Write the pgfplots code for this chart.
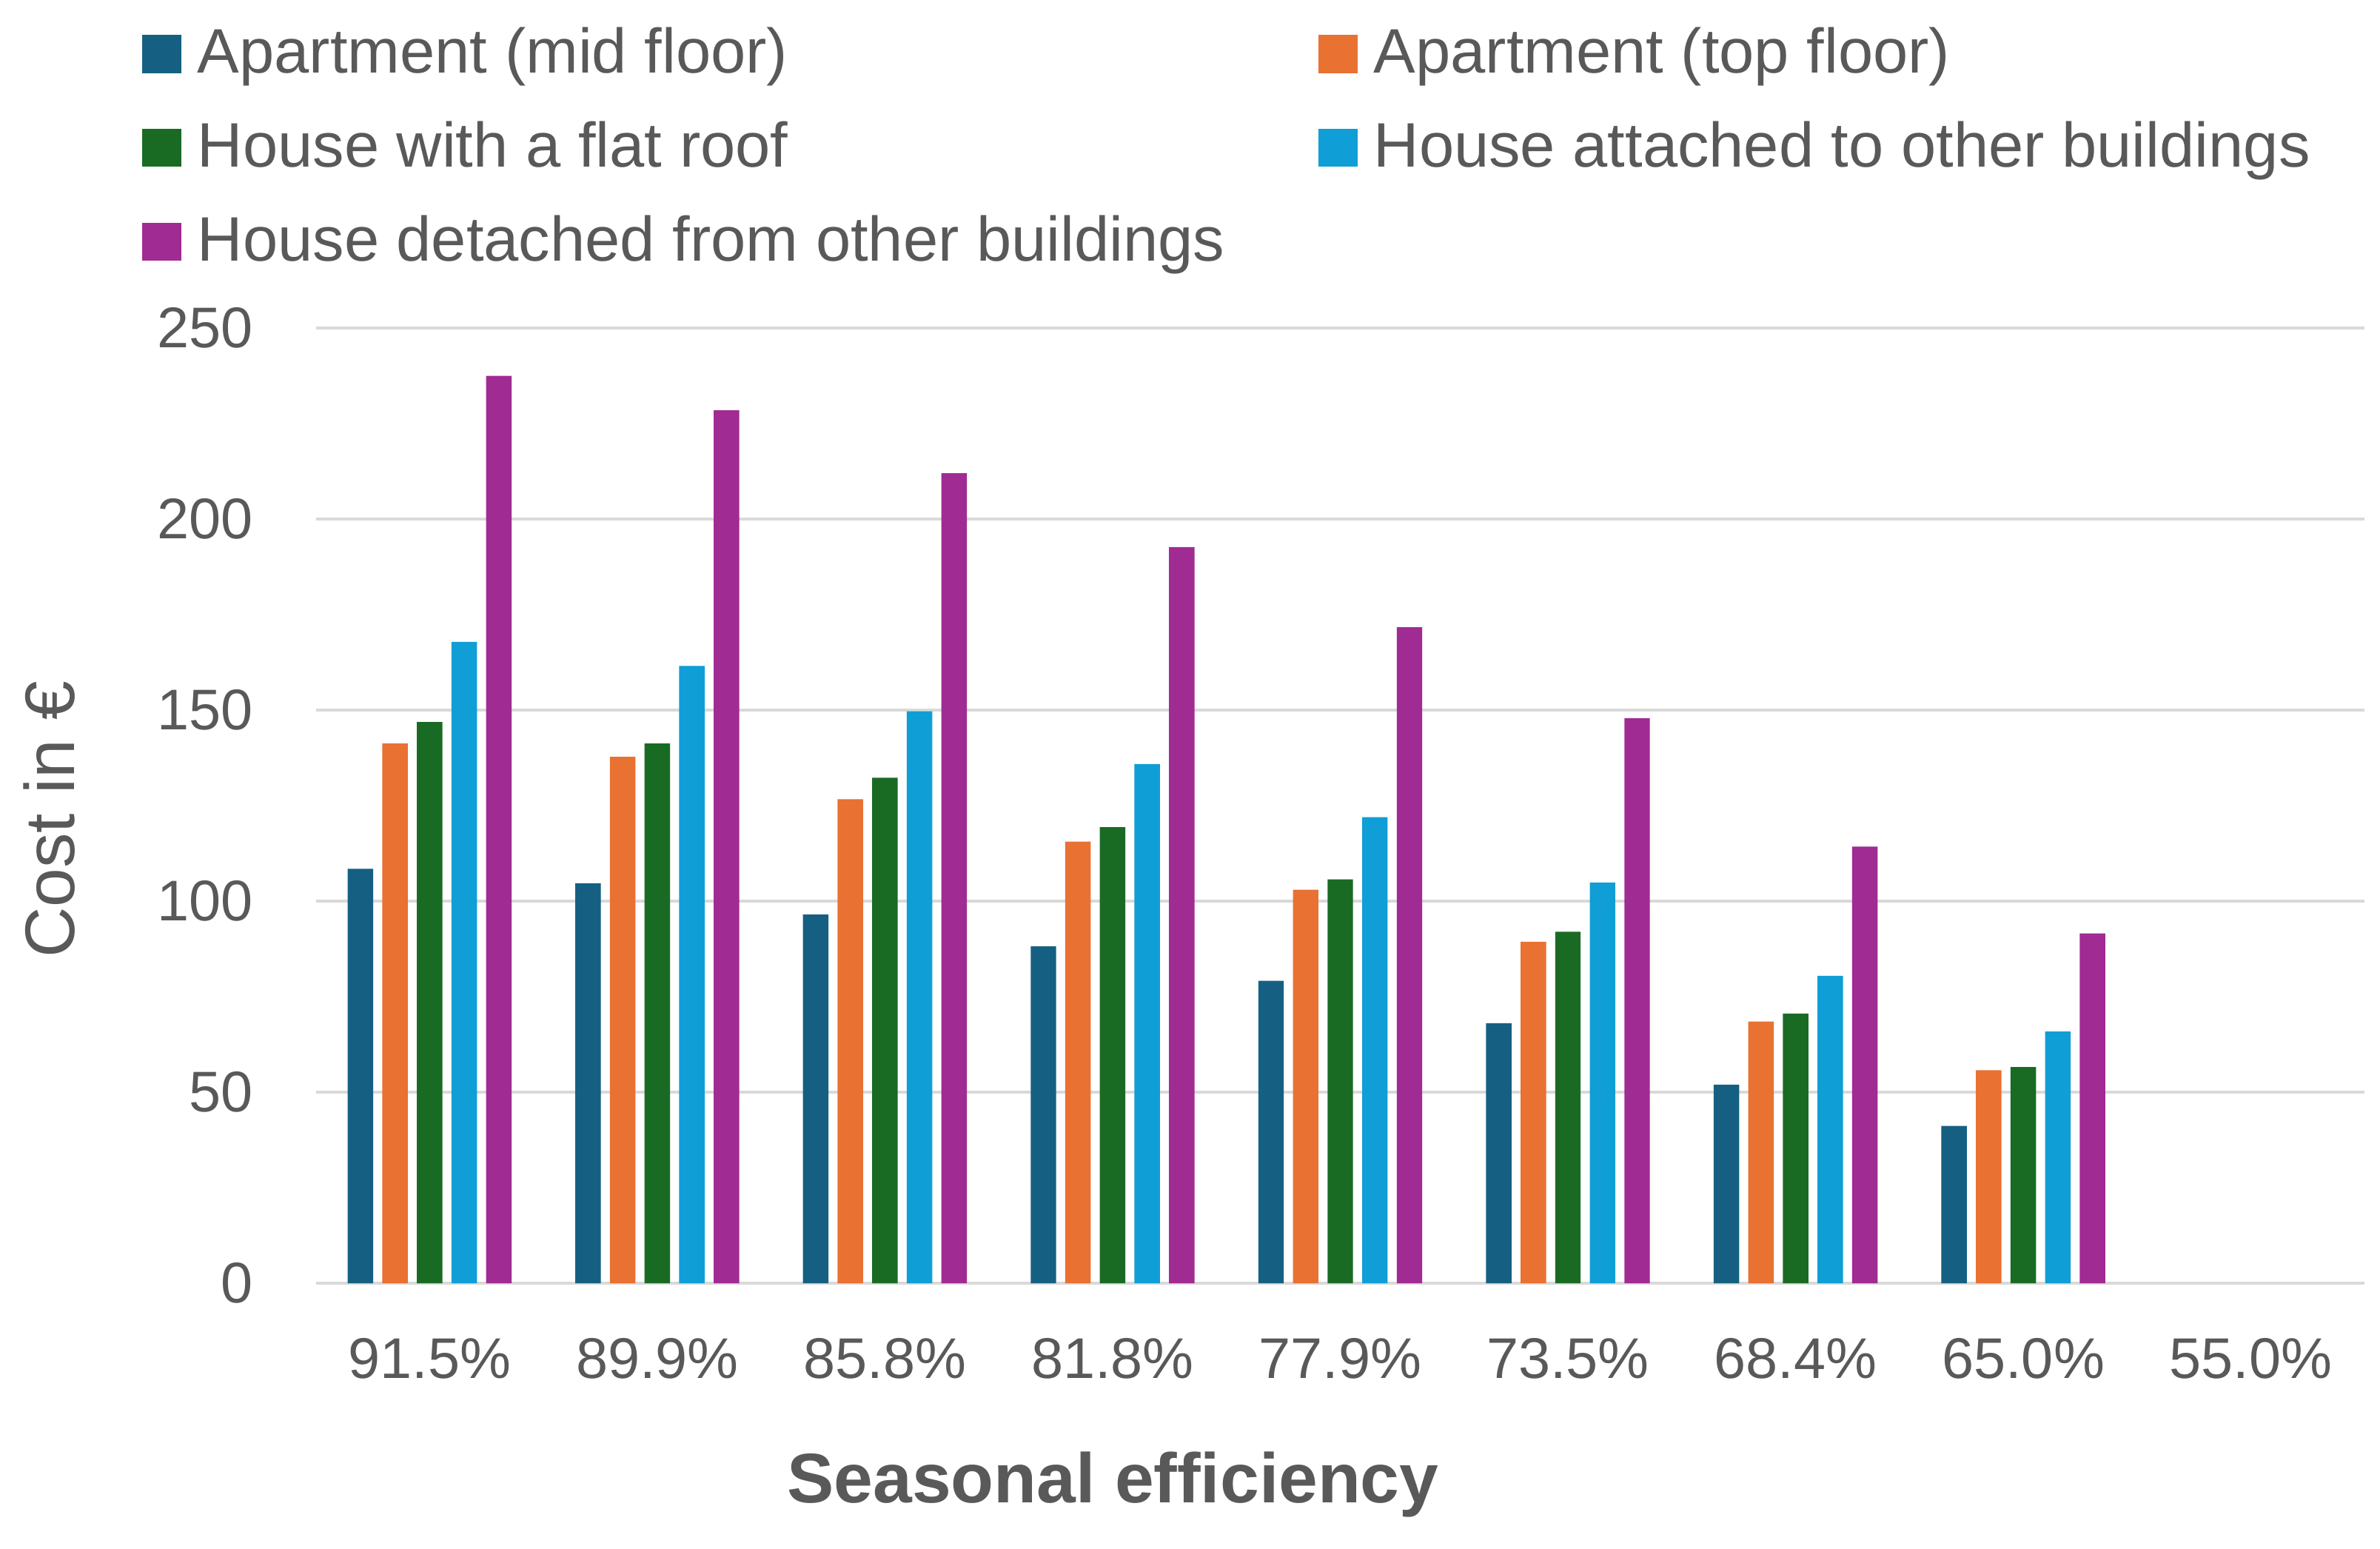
\documentclass[border=0pt]{standalone}
\usepackage{fontspec}
\setmainfont{Liberation Sans}
\usepackage{pgfplots}
\pgfplotsset{compat=1.18}
\usepackage{pgfplotstable}
\definecolor{cMid}{HTML}{156082}
\definecolor{cTop}{HTML}{E97132}
\definecolor{cFlat}{HTML}{196B24}
\definecolor{cAtt}{HTML}{0F9ED5}
\definecolor{cDet}{HTML}{A02B93}
\definecolor{txt}{HTML}{595959}
\definecolor{gridc}{HTML}{D9D9D9}
\pgfplotstableread{
cat mid top flat att det
0 108.5 141.3 146.9 167.9 237.5
1 104.7 137.8 141.3 161.6 228.5
2 96.5 126.7 132.3 149.7 212.0
3 88.2 115.6 119.4 135.9 192.7
4 79.2 103.0 105.7 122.0 171.7
5 68.1 89.4 92.0 104.9 147.9
6 52.0 68.5 70.6 80.5 114.3
7 41.2 55.8 56.6 65.9 91.6
}\data
\pgfplotsset{sqleg/.style={legend image code/.code={\fill[##1,draw=none] (0pt,0pt) rectangle (6.4pt,6.2pt);}}}
\begin{document}
\begin{tikzpicture}
\useasboundingbox (-51.75pt,-43.5pt) rectangle (338.25pt,210.25pt);
\begin{axis}[
  at={(0pt,0pt)}, anchor=south west,
  scale only axis, width=335.75pt, height=156.5pt,
  xmin=-0.5, xmax=8.5, ymin=0, ymax=250,
  ytick={0,50,...,250},
  xtick={0,...,8},
  xticklabels={91.5\%,89.9\%,85.8\%,81.8\%,77.9\%,73.5\%,68.4\%,65.0\%,55.0\%},
  ymajorgrids,
  major grid style={draw=gridc, line width=0.45pt},
  axis line style={draw=none},
  major tick length=0pt,
  tick style={draw=none},
  /pgf/number format/assume math mode=true,
  ticklabel style={font=\fontsize{9.4}{11}\selectfont, text=txt},
  yticklabel style={anchor=east, inner sep=0pt, xshift=-10.1pt},
  xticklabel style={anchor=north, inner sep=0pt, yshift=-8.75pt},
  xlabel={Seasonal efficiency},
  ylabel={Cost in €},
  xlabel style={at={(axis description cs:0.3891,-0.2300)}, anchor=base, font=\fontsize{11.5}{13}\selectfont\bfseries, text=txt, inner sep=0pt},
  ylabel style={at={(axis description cs:-0.118,0.4856)}, anchor=base, font=\fontsize{11.5}{13}\selectfont, text=txt, inner sep=0pt},
  legend columns=2,
  legend cell align=left,
  legend style={at={(-0.08526,1.3169)}, anchor=north west, draw=none, fill=none, inner sep=0pt,
    font=\fontsize{10.3}{12}\selectfont, text=txt,
    nodes={inner sep=0pt, text height=7.6pt, text depth=2.2pt},
    cells={anchor=base west}, row sep=5.6pt,
    /tikz/every odd column/.append style={column sep=2.65pt},
    /tikz/every even column/.append style={column sep=15.35pt}},
  ybar, bar width=0.112,
]
\addplot[fill=cMid, draw=none, bar shift=-0.304, sqleg] table[x=cat,y=mid]{\data};
\addlegendentry{Apartment (mid floor)}
\addplot[fill=cTop, draw=none, bar shift=-0.152, sqleg] table[x=cat,y=top]{\data};
\addlegendentry{Apartment (top floor)}
\addplot[fill=cFlat, draw=none, bar shift=0, sqleg] table[x=cat,y=flat]{\data};
\addlegendentry{House with a flat roof}
\addplot[fill=cAtt, draw=none, bar shift=0.152, sqleg] table[x=cat,y=att]{\data};
\addlegendentry{House attached to other buildings}
\addplot[fill=cDet, draw=none, bar shift=0.304, sqleg] table[x=cat,y=det]{\data};
\addlegendentry{House detached from other buildings}
\end{axis}
\end{tikzpicture}
\end{document}
